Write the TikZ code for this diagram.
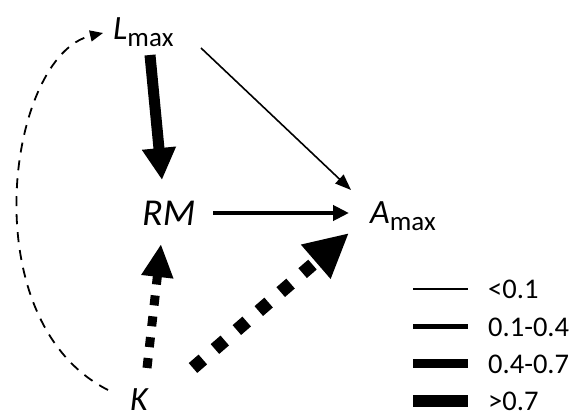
\documentclass[tikz,border=0pt]{standalone}
\usepackage{fontspec}
\setmainfont{Carlito}
\usetikzlibrary{arrows.meta}
\begin{document}
\begin{tikzpicture}[x=1pt,y=-1pt,
  var/.style={anchor=base west,inner sep=0pt,font=\fontsize{34}{34}\selectfont\itshape},
  key/.style={anchor=west,inner sep=0pt,font=\fontsize{28.5}{28.5}\selectfont},
  thin/.style={line width=1.6pt,-{Triangle[length=16pt,width=12pt]}},
  mid/.style={line width=4.5pt,-{Triangle[length=16pt,width=15pt]}},
  heavy/.style={line width=11pt,-{Triangle[length=32pt,width=32pt]}},
  negmid/.style={line width=9pt,dash pattern=on 10pt off 11pt,-{Triangle[length=33pt,width=30pt]}},
  negheavy/.style={line width=13pt,dash pattern=on 13pt off 16pt,-{Triangle[length=44pt,width=42pt]}},
  link/.style={line width=1.8pt,dash pattern=on 10pt off 8pt,-{Triangle[length=13pt,width=11pt]}},
]
\newcommand{\sub}[1]{\raisebox{-7pt}{\upshape\fontsize{27}{27}\selectfont #1}}
\useasboundingbox (0,0) rectangle (573,419);

% variables
\node[var] (L)  at (113,40)  {L\sub{max}};
\node[var,font=\fontsize{38}{38}\selectfont\itshape] (RM) at (142,226) {RM};
\node[var] (A)  at (370,224) {A\sub{max}};
\node[var] (K)  at (130,411) {K};

% path effects
\draw[heavy] ([shift={(37,15)}]L.base west) -- ([shift={(20,-46)}]RM.base west);
\draw[thin]  ([shift={(88,8)}]L.base west) -- ([shift={(-19,-34)}]A.base west);
\draw[mid]   ([shift={(71,-13)}]RM.base west) -- ([shift={(-21,-11)}]A.base west);
\draw[negmid]   ([shift={(17,-43)}]K.base west) -- ([shift={(19,18)}]RM.base west);
\draw[negheavy] ([shift={(63,-43)}]K.base west) -- ([shift={(-21,9)}]A.base west);
\draw[link] ([shift={(-22,-21)}]K.base west) .. controls (-30,320) and (8,55) .. ([shift={(-10,-7)}]L.base west);

% legend
\draw[line width=1.3pt] (413,289) -- (468,289);
\draw[line width=5pt]   (413,327) -- (468,327);
\draw[line width=9pt]   (413,364) -- (468,364);
\draw[line width=12pt]  (413,401) -- (468,401);
\node[key] (k1) at (488,289) {<0.1};
\node[key] (k2) at (488,327) {0.1-0.4};
\node[key] (k3) at (488,364) {0.4-0.7};
\node[key] (k4) at (488,401) {>0.7};
\end{tikzpicture}
\end{document}
